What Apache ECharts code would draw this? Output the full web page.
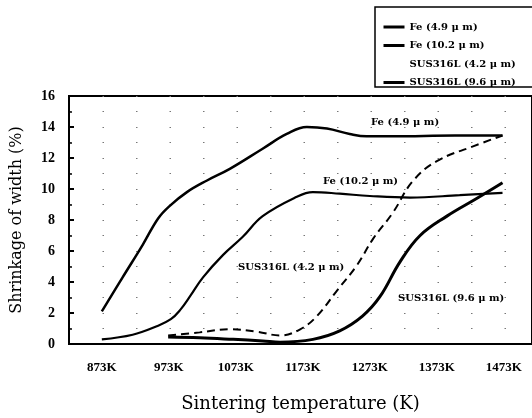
<!DOCTYPE html>
<html>
<head>
<meta charset="utf-8">
<script src="https://cdn.jsdelivr.net/npm/echarts@6/dist/echarts.min.js"></script>
<style>
  html, body { margin: 0; padding: 0; background: #fff; }
  #chart { width: 532px; height: 418px; }
</style>
</head>
<body>
<div id="chart"></div>
<script>
// sintering temperature (K) on x, shrinkage of width (%) on y
const tickTemps = [873, 973, 1073, 1173, 1273, 1373, 1473];

const fe49Temp = [873, 904, 934, 957, 974, 1000, 1030, 1064, 1113, 1149, 1179, 1209, 1243, 1268, 1307, 1400, 1471];
const fe49Val  = [2.1, 4.3, 6.4, 8.1, 8.9, 9.8, 10.55, 11.3, 12.6, 13.55, 14.0, 13.9, 13.55, 13.4, 13.4, 13.45, 13.45];

const fe102Temp = [873, 919, 955, 976, 990, 1005, 1024, 1054, 1083, 1113, 1164, 1188, 1228, 1273, 1333, 1407, 1471];
const fe102Val  = [0.3, 0.6, 1.15, 1.6, 2.2, 3.1, 4.3, 5.75, 6.9, 8.25, 9.5, 9.8, 9.7, 9.55, 9.45, 9.6, 9.75];

const sus42Temp = [972, 1019, 1064, 1104, 1139, 1169, 1194, 1224, 1254, 1278, 1307, 1337, 1373, 1427, 1471];
const sus42Val  = [0.55, 0.75, 0.95, 0.8, 0.55, 0.95, 1.8, 3.45, 5.1, 6.8, 8.45, 10.5, 11.8, 12.75, 13.45];

const sus96Temp = [972, 1019, 1069, 1113, 1139, 1188, 1228, 1262, 1288, 1318, 1348, 1388, 1433, 1471];
const sus96Val  = [0.45, 0.4, 0.3, 0.2, 0.12, 0.3, 0.85, 1.8, 3.05, 5.3, 7.0, 8.25, 9.4, 10.4];

const names = ['Fe (4.9 μ m)', 'Fe (10.2 μ m)', 'SUS316L (4.2 μ m)', 'SUS316L (9.6 μ m)'];

function pairs(xs, ys) {
  return xs.map((x, i) => [x, ys[i]]);
}

const font = 'DejaVu Serif';
const tickFont = 'Liberation Serif';
const chart = echarts.init(document.getElementById('chart'));

const dotStyle = { color: '#777', width: 1, type: [1.5, 32] };
const noteFont = 'bold 10px "DejaVu Serif"';

chart.setOption({
  animation: false,
  backgroundColor: '#fff',
  grid: {
    left: 69, top: 96, right: -3, bottom: 66,
    show: true, borderColor: '#000', borderWidth: 2
  },
  legend: {
    left: 377, top: 17, orient: 'vertical',
    itemWidth: 21, itemHeight: 10, itemGap: 8.5,
    itemStyle: { opacity: 0 },
    lineStyle: { width: 3 },
    textStyle: { fontFamily: font, fontWeight: 'bold', fontSize: 10, color: '#000' },
    data: [
      { name: names[0] },
      { name: names[1] },
      { name: names[2], lineStyle: { opacity: 0 } },
      { name: names[3] }
    ]
  },
  graphic: [
    { type: 'rect', shape: { x: 375, y: 7, width: 170, height: 80 },
      style: { fill: 'none', stroke: '#000', lineWidth: 1.5 } },
    { type: 'text', x: 371, y: 117, style: { text: names[0], font: noteFont, fill: '#000' } },
    { type: 'text', x: 323, y: 176, style: { text: names[1], font: noteFont, fill: '#000' } },
    { type: 'text', x: 238, y: 262, style: { text: names[2], font: noteFont, fill: '#000' } },
    { type: 'text', x: 398, y: 293, style: { text: names[3], font: noteFont, fill: '#000' } }
  ],
  xAxis: {
    type: 'value', min: 824, max: 1515,
    name: 'Sintering temperature (K)', nameLocation: 'middle', nameGap: 51,
    nameTextStyle: { fontFamily: font, fontSize: 18, color: '#000' },
    axisLine: { lineStyle: { color: '#000', width: 2 } },
    axisTick: { show: false },
    splitLine: { show: false },
    axisLabel: {
      customValues: tickTemps, margin: 17,
      formatter: v => v + 'K',
      fontFamily: tickFont, fontWeight: 'bold', fontSize: 13, color: '#000'
    }
  },
  yAxis: {
    type: 'value', min: 0, max: 16, interval: 2,
    name: 'Shrinkage of width (%)', nameLocation: 'middle', nameGap: 44,
    nameTextStyle: { fontFamily: font, fontSize: 16, color: '#000' },
    axisLine: { show: true, lineStyle: { color: '#000', width: 2 } },
    axisTick: { show: true, inside: true, length: 5, lineStyle: { color: '#000', width: 2 } },
    minorTick: { show: true, splitNumber: 2, length: 3, lineStyle: { color: '#000', width: 1.5 } },
    splitLine: { show: true, lineStyle: dotStyle },
    minorSplitLine: { show: true, lineStyle: dotStyle },
    axisLabel: { margin: 14, fontFamily: tickFont, fontWeight: 'bold', fontSize: 14, color: '#000' }
  },
  series: [
    { name: names[0], type: 'line', smooth: 0.4, symbol: 'none', data: pairs(fe49Temp, fe49Val),
      lineStyle: { color: '#000', width: 2.5 }, itemStyle: { color: '#000' } },
    { name: names[1], type: 'line', smooth: 0.4, symbol: 'none', data: pairs(fe102Temp, fe102Val),
      lineStyle: { color: '#000', width: 2.2 }, itemStyle: { color: '#000' } },
    { name: names[2], type: 'line', smooth: 0.4, symbol: 'none', data: pairs(sus42Temp, sus42Val),
      lineStyle: { color: '#000', width: 2, type: [8, 5] }, itemStyle: { color: '#000' } },
    { name: names[3], type: 'line', smooth: 0.4, symbol: 'none', data: pairs(sus96Temp, sus96Val),
      lineStyle: { color: '#000', width: 3 }, itemStyle: { color: '#000' } }
  ]
});
</script>
</body>
</html>
